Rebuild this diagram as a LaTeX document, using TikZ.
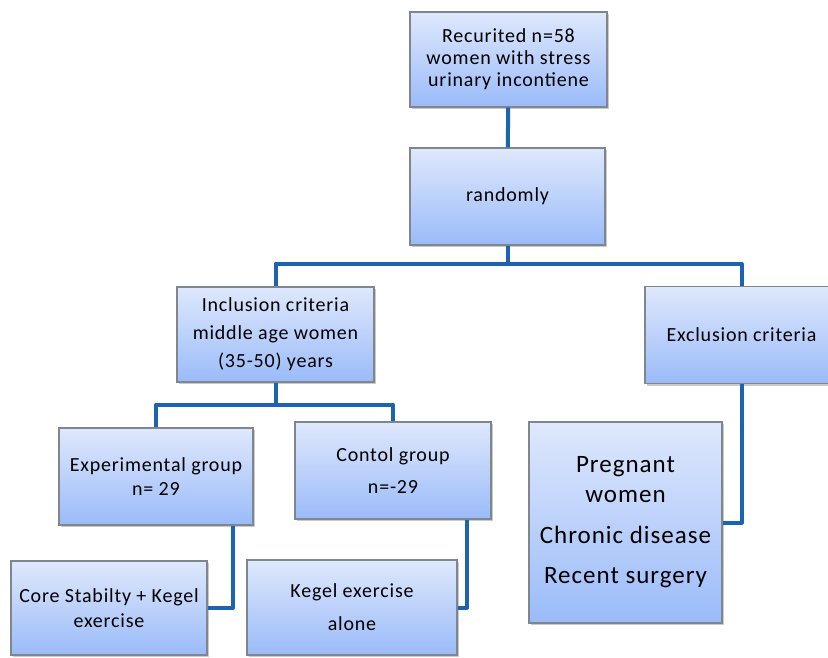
\documentclass[tikz,border=0pt]{standalone}
\usepackage{fontspec}
\setmainfont{Carlito}[LetterSpace=4]
\usetikzlibrary{shadows}
\definecolor{boxtop}{RGB}{223,232,252}
\definecolor{boxbot}{RGB}{154,187,249}
\definecolor{boxline}{RGB}{128,134,142}
\definecolor{linkblue}{RGB}{28,99,178}
\tikzset{
  box/.style={draw=boxline, line width=1.2pt, top color=boxtop, bottom color=boxbot,
    minimum width=195pt, minimum height=95pt, align=center, inner sep=2pt,
    font=\fontsize{20}{22}\selectfont,
    drop shadow={shadow xshift=2pt, shadow yshift=-2pt, opacity=0.35, fill=black!60}},
  link/.style={draw=linkblue, line width=4pt, line join=round}
}
\begin{document}
\begin{tikzpicture}[x=1pt,y=-1pt]
\clip (0,0) rectangle (828,657);
% boxes
\node[box, minimum width=197pt] (recruit) at (508.5,59.5) {Recurited n=58\\women with stress\\urinary incontiene};
\node[box, minimum height=97pt] (random) at (507.5,196.5) {randomly};
\node[box, minimum width=197pt] (incl) at (275.5,334.5) {Inclusion criteria\\[6pt]middle age women\\[6pt](35-50) years};
\node[box, minimum width=193pt, minimum height=97pt] (excl) at (741.5,335) {Exclusion criteria};
\node[box, minimum width=193pt, minimum height=201pt, font=\fontsize{25}{30}\selectfont] (preg) at (625.5,522.5)
  {Pregnant\\women\\[11pt]Chronic disease\\[10pt]Recent surgery};
\node[box, minimum width=194pt, minimum height=97pt] (exp) at (156,476.5) {Experimental group\\[2pt]n= 29};
\node[box, minimum width=196pt, minimum height=97pt] (ctrl) at (393,470.5) {Contol group\\[10pt]n=-29};
\node[box, minimum width=196pt, minimum height=94pt] (core) at (109,608) {Core Stabilty + Kegel\\[3pt]exercise};
\node[box, minimum width=210pt] (kegel) at (352,607.5) {Kegel exercise\\[11pt]alone};
% connectors
\draw[link] (recruit) -- (random);
\draw[link] (random.south) -- ++(0,18) -| (incl.north);
\draw[link] (random.south) -- ++(0,18) -| (excl.north);
\draw[link] (incl.south) -- ++(0,22) -| (exp.north);
\draw[link] (incl.south) -- ++(0,22) -| (ctrl.north);
\draw[link] (excl.south) |- (preg.east);
\draw[link] ([xshift=77pt]exp.south) |- (core.east);
\draw[link] ([xshift=74pt]ctrl.south) |- (kegel.east);
\end{tikzpicture}
\end{document}
